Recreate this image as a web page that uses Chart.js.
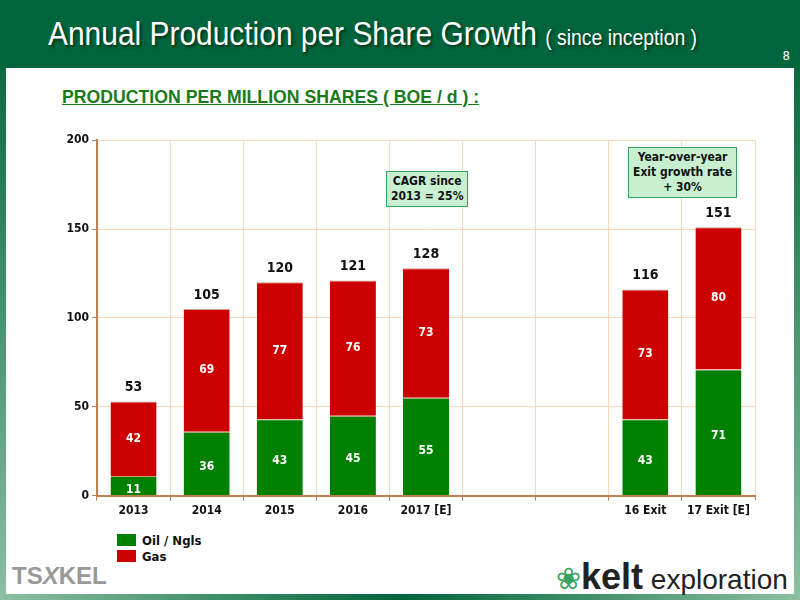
<!DOCTYPE html>
<html><head><meta charset="utf-8">
<script src="https://cdn.jsdelivr.net/npm/chart.js@4.4.0/dist/chart.umd.min.js"></script>
<style>
body{margin:0;width:800px;height:600px;overflow:hidden;background:#fff;font-family:"DejaVu Sans Condensed","Liberation Sans",sans-serif;position:relative}
#hdr{position:absolute;left:0;top:0;width:800px;height:68px;background:#00643c}
#hdr h1{margin:0;position:absolute;left:48px;top:14px;color:#fff;font-weight:normal;font-size:34px;text-shadow:2px 2px 3px #003318;white-space:nowrap;font-family:"Liberation Sans",sans-serif;transform:scaleX(0.88);transform-origin:left}
#hdr h1 span{font-size:22px}
#pg{position:absolute;right:10px;top:48px;color:#fff;font-size:13px}
.frame{position:absolute;background:linear-gradient(#0b6b3f,#8cc0a0)}
#sub{position:absolute;left:62px;top:86px;color:#1a7a1a;font-weight:bold;font-size:19px;text-decoration:underline;white-space:nowrap;font-family:"Liberation Sans",sans-serif;transform:scaleX(0.93);transform-origin:left}
#wrap{position:absolute;left:40px;top:130px;width:725px;height:391px}
.box{position:absolute;background:#c8f0d0;border:1px solid #3aa060;font-weight:bold;font-size:12px;text-align:center;line-height:15px;padding:2px 4px;color:#111;white-space:nowrap}
.leg{position:absolute;left:117px;font-size:13px;font-weight:bold;color:#111}
.leg i{display:inline-block;width:19px;height:12px;margin-right:6px;vertical-align:-1px}
</style></head><body>
<div id="hdr"><h1>Annual Production per Share Growth <span>( since inception )</span></h1><div id="pg">8</div></div>
<div class="frame" style="left:0;top:68px;width:6px;height:532px"></div>
<div class="frame" style="right:0;top:68px;width:6px;height:532px"></div>
<div style="position:absolute;left:0;bottom:0;width:800px;height:6px;background:linear-gradient(90deg,#8cc0a0,#00643c,#8cc0a0)"></div>
<div id="sub">PRODUCTION PER MILLION SHARES ( BOE / d ) :</div>
<div id="wrap"><canvas id="c"></canvas></div>
<div class="box" style="left:386px;top:171px">CAGR since<br>2013 = 25%</div>
<div class="box" style="left:628px;top:147px">Year-over-year<br>Exit growth rate<br>+ 30%</div>
<div class="leg" style="top:533px"><i style="background:#008000"></i>Oil / Ngls</div>
<div class="leg" style="top:549px"><i style="background:#cc0000"></i>Gas</div>
<div style="position:absolute;left:12px;top:562px;font-size:24px;font-weight:bold;color:#999;font-family:'Liberation Sans',sans-serif">TS<span style="font-style:italic">X</span>KEL</div>
<div style="position:absolute;left:556px;top:556px;font-size:36px;color:#222;font-family:'Liberation Sans',sans-serif;white-space:nowrap"><span style="color:#3aa060;font-size:30px">&#10048;</span><b>kelt</b><span style="font-size:28px"> exploration</span></div>
<script>
const categories = ['2013','2014','2015','2016','2017 [E]','','','16 Exit','17 Exit [E]'];
const oilNgls = [11,36,43,45,55,null,null,43,71];
const gas = [42,69,77,76,73,null,null,73,80];
const totals = [53,105,120,121,128,null,null,116,151];
const yTicks = [0,50,100,150,200];
const FONT = '"DejaVu Sans Condensed","Liberation Sans",sans-serif';

const labelPlugin = {
  id:'labels',
  afterDatasetsDraw(chart){
    const ctx = chart.ctx;
    ctx.save();
    ctx.textAlign='center';ctx.textBaseline='middle';
    chart.data.datasets.forEach((ds,di)=>{
      chart.getDatasetMeta(di).data.forEach((bar,i)=>{
        if(ds.data[i]==null) return;
        ctx.fillStyle='#fff';ctx.font='bold 12px '+FONT;
        ctx.fillText(ds.data[i],bar.x,(bar.y+bar.base)/2+(di==0?4:0));
      });
    });
    const y=chart.scales.y, x=chart.scales.x;
    ctx.fillStyle='#111';ctx.font='bold 14px '+FONT;
    totals.forEach((t,i)=>{ if(t==null) return; ctx.fillText(t,x.getPixelForValue(i),y.getPixelForValue(t)-14); });
    ctx.restore();
  }
};

new Chart(document.getElementById('c'),{
  type:'bar',
  data:{labels:categories,datasets:[
    {label:'Oil / Ngls',data:oilNgls,backgroundColor:'#008000',borderColor:'#cfa080',borderWidth:{top:1},borderSkipped:false},
    {label:'Gas',data:gas,backgroundColor:'#cc0000',borderColor:'#cfa080',borderWidth:{top:1},borderSkipped:false}
  ]},
  options:{
    responsive:true,maintainAspectRatio:false,animation:false,
    layout:{padding:{right:10,top:6}},
    plugins:{legend:{display:false},tooltip:{enabled:false}},
    datasets:{bar:{categoryPercentage:1,barPercentage:0.63}},
    scales:{
      x:{stacked:true,grid:{color:'#f8d8b8',offset:true,tickLength:5,tickColor:'#c08050'},border:{color:'#c08050',width:2},
         ticks:{color:'#111',maxRotation:0,autoSkip:false,font:{weight:'bold',size:12,family:FONT}}},
      y:{stacked:true,min:0,max:200,afterFit(s){s.width=57;},afterBuildTicks(s){s.ticks=yTicks.map(v=>({value:v}));},
         grid:{color:'#f8d8b8',tickLength:5,tickColor:'#c08050'},border:{color:'#c08050',width:2},
         ticks:{color:'#111',font:{weight:'bold',size:12,family:FONT}}}
    }
  },
  plugins:[labelPlugin]
});
</script>
</body></html>
